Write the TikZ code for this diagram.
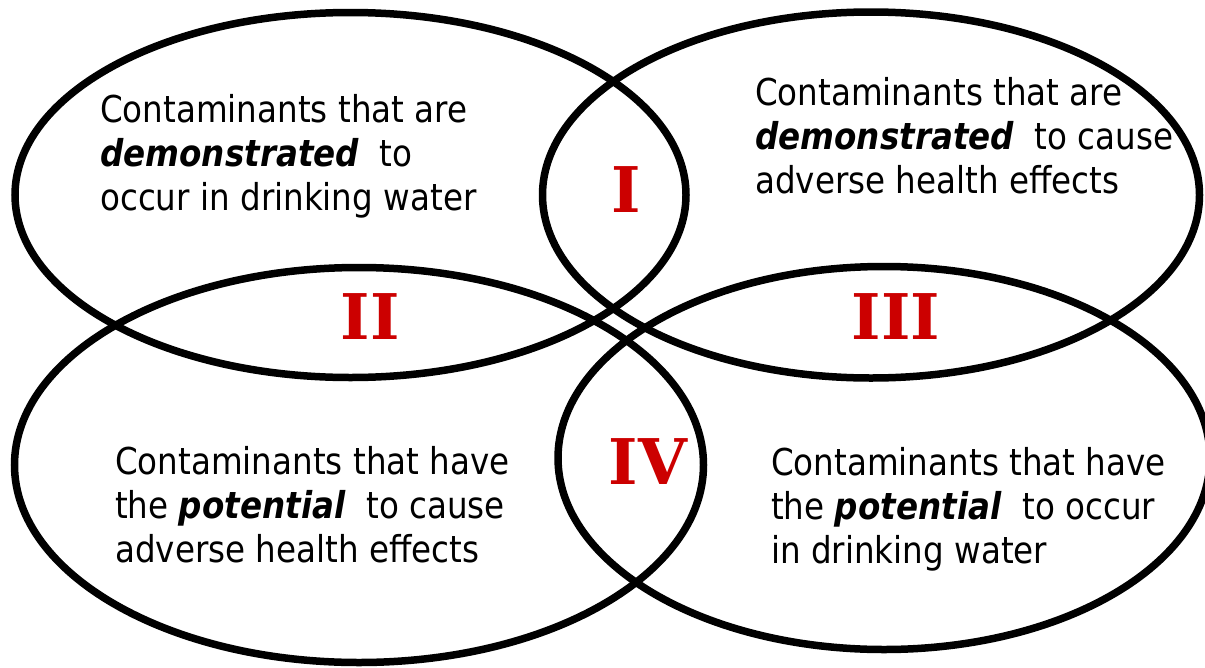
\documentclass[tikz,border=0pt]{standalone}
\usepackage{fontspec}
\setmainfont{DejaVu Sans}[FakeStretch=0.88]
\newfontfamily\numfont{DejaVu Serif}
\usetikzlibrary{shapes.geometric}
\definecolor{numred}{HTML}{CC0000}
\tikzset{
  venn/.style={draw=black, line width=7.5pt, ellipse, inner sep=0pt},
  desc/.style={anchor=base west, align=left, inner sep=0pt, font=\fontsize{37}{44}\selectfont},
  num/.style={text=numred, font=\numfont\bfseries\fontsize{63}{63}\selectfont, inner sep=0pt},
}
\newcommand{\emw}[1]{\textbf{\textit{#1}}}
\begin{document}
\begin{tikzpicture}[x=1pt,y=-1pt]
\useasboundingbox (0,0) rectangle (1205,667);
\clip (0,0) rectangle (1205,667);
\node[venn, minimum width=671pt, minimum height=365pt] (e1) at (350.5,195) {};
\node[venn, minimum width=657pt, minimum height=366pt] (e2) at (871,195) {};
\node[venn, minimum width=689pt, minimum height=395pt] (e3) at (359,465) {};
\node[venn, minimum width=652pt, minimum height=383pt] (e4) at (884,458) {};
\node[desc] (t1) at (100,210) {Contaminants that are\\\emw{demonstrated}\ \ to\\occur in drinking water};
\node[desc] (t2) at (755,193) {Contaminants that are\\\emw{demonstrated}\ \ to cause\\adverse health effects};
\node[desc] (t3) at (115,562) {Contaminants that have\\the \emw{potential}\ \ to cause\\adverse health effects};
\node[desc] (t4) at (771,563) {Contaminants that have\\the \emw{potential}\ \ to occur\\in drinking water};
\node[num] (n1) at (626,190) {I};
\node[num] (n2) at (370,317) {II};
\node[num] (n3) at (896,317) {III};
\node[num] (n4) at (648,462) {IV};
\end{tikzpicture}
\end{document}
